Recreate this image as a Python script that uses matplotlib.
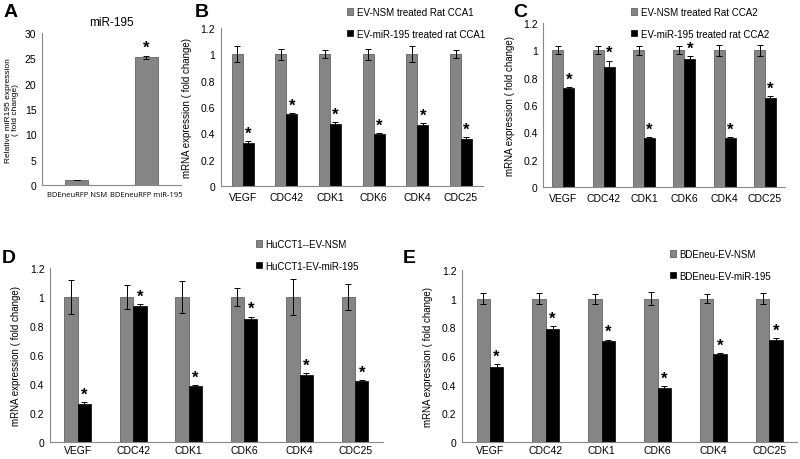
import numpy as np
import matplotlib
matplotlib.use("Agg")
from matplotlib import pyplot as plt

plt.rcParams['font.family'] = ['Liberation Sans', 'DejaVu Sans']

genes = ['VEGF', 'CDC42', 'CDK1', 'CDK6', 'CDK4', 'CDC25']

# panel A
a_labels = ['BDEneuRFP NSM', 'BDEneuRFP miR-195']
a_vals = [1.0, 25.2]
a_err = [0.05, 0.3]

# panel B
b_ctrl = [1, 1, 1, 1, 1, 1]
b_ctrl_err = [0.06, 0.04, 0.03, 0.04, 0.06, 0.03]
b_mir = [0.33, 0.545, 0.47, 0.395, 0.46, 0.355]
b_mir_err = [0.01, 0.01, 0.015, 0.01, 0.015, 0.015]

# panel C
c_ctrl = [1, 1, 1, 1, 1, 1]
c_ctrl_err = [0.03, 0.03, 0.035, 0.03, 0.04, 0.04]
c_mir = [0.725, 0.875, 0.36, 0.94, 0.355, 0.65]
c_mir_err = [0.008, 0.05, 0.008, 0.015, 0.01, 0.015]

# panel D
d_ctrl = [1, 1, 1, 1, 1, 1]
d_ctrl_err = [0.12, 0.08, 0.11, 0.06, 0.125, 0.09]
d_mir = [0.265, 0.935, 0.385, 0.845, 0.465, 0.42]
d_mir_err = [0.008, 0.015, 0.01, 0.02, 0.01, 0.008]

# panel E
e_ctrl = [1, 1, 1, 1, 1, 1]
e_ctrl_err = [0.04, 0.04, 0.035, 0.045, 0.03, 0.04]
e_mir = [0.525, 0.79, 0.705, 0.375, 0.615, 0.71]
e_mir_err = [0.02, 0.02, 0.01, 0.015, 0.008, 0.015]

GRAY = '#858585'
EDGE = '#505050'
AXC = '#888888'


def style(ax):
    for s in ['top', 'right']:
        ax.spines[s].set_visible(False)
    for s in ['left', 'bottom']:
        ax.spines[s].set_color(AXC)
        ax.spines[s].set_linewidth(0.8)
    ax.tick_params(axis='both', length=0, labelsize=7.5, pad=4)


def grouped(ax, ctrl, ctrl_err, mir, mir_err, labels, leg_xy, w=0.25, xpad=4):
    x = np.arange(len(genes))
    ekw = dict(elinewidth=0.7, capsize=2, capthick=0.7, ecolor='black')
    b1 = ax.bar(x - w / 2, ctrl, w, yerr=ctrl_err, color=GRAY, edgecolor=EDGE,
                linewidth=0.5, error_kw=ekw, label=labels[0])
    b2 = ax.bar(x + w / 2, mir, w, yerr=mir_err, color='black', edgecolor='black',
                linewidth=0.5, error_kw=ekw, label=labels[1])
    for i in range(len(genes)):
        ax.text(x[i] + w / 2, mir[i] + mir_err[i] + 0.003, '*', ha='center', va='bottom',
                fontsize=12, fontweight='bold')
    ax.set_xticks(x)
    ax.set_xticklabels(genes)
    ax.set_xlim(-0.5, len(genes) - 0.5)
    ax.set_ylim(0, 1.2)
    ax.set_yticks([0, 0.2, 0.4, 0.6, 0.8, 1, 1.2])
    ax.set_yticklabels(['0', '0.2', '0.4', '0.6', '0.8', '1', '1.2'])
    ax.set_ylabel('mRNA expression ( fold change)', fontsize=7, labelpad=6)
    style(ax)
    ax.tick_params(axis='x', pad=xpad)
    fx, fy = leg_xy
    ax.legend(handles=[b1, b2], loc='upper left', bbox_to_anchor=(fx / 800, 1 - fy / 460),
              bbox_transform=ax.figure.transFigure, frameon=False, fontsize=7,
              handlelength=0.6, handleheight=0.6, handletextpad=0.4, labelspacing=1.2,
              borderpad=0, borderaxespad=0)


fig = plt.figure(figsize=(8, 4.6), dpi=100)

# A
axA = fig.add_axes([0.0525, 0.5957, 0.174, 0.330])
xa = np.arange(2)
axA.bar(xa, a_vals, 0.33, yerr=a_err, color=GRAY, edgecolor=EDGE, linewidth=0.5,
        error_kw=dict(elinewidth=0.7, capsize=2, capthick=0.7))
axA.text(xa[1], a_vals[1] + a_err[1] + 0.2, '*', ha='center', va='bottom',
         fontsize=12, fontweight='bold')
axA.set_xticks(xa)
axA.set_xticklabels(a_labels, family=['Open Sans', 'DejaVu Sans'])
axA.set_xlim(-0.5, 1.5)
axA.set_ylim(0, 30)
axA.set_yticks([0, 5, 10, 15, 20, 25, 30])
style(axA)
axA.tick_params(axis='x', labelsize=5.5)
axA.set_ylabel('Relative miR195 expression\n( fold change)', fontsize=6, labelpad=4,
               linespacing=1.0)
axA.set_title('miR-195', fontsize=8.5, pad=6)

# B
axB = fig.add_axes([0.276, 0.5935, 0.3275, 0.3435])
grouped(axB, b_ctrl, b_ctrl_err, b_mir, b_mir_err,
        ['EV-NSM treated Rat CCA1', 'EV-miR-195 treated rat CCA1'], (347, 8))

# C
axC = fig.add_axes([0.679, 0.5913, 0.3025, 0.3565])
grouped(axC, c_ctrl, c_ctrl_err, c_mir, c_mir_err,
        ['EV-NSM treated Rat CCA2', 'EV-miR-195 treated rat CCA2'], (631, 8), w=0.27)

# D
axD = fig.add_axes([0.0625, 1 - 443 / 460, 0.416, 174 / 460])
grouped(axD, d_ctrl, d_ctrl_err, d_mir, d_mir_err,
        ['HuCCT1--EV-NSM', 'HuCCT1-EV-miR-195'], (256, 240), w=0.24, xpad=2)

# E
axE = fig.add_axes([0.5775, 1 - 443 / 460, 0.419, 172 / 460])
grouped(axE, e_ctrl, e_ctrl_err, e_mir, e_mir_err,
        ['BDEneu-EV-NSM', 'BDEneu-EV-miR-195'], (670, 250), w=0.24, xpad=2)

for letter, (px, py) in zip('ABCDE', [(4, 4), (195, 4), (513, 4), (2, 250), (403, 250)]):
    fig.text(px / 800, 1 - py / 460, letter, fontsize=14, fontweight='bold',
             ha='left', va='top')

fig.savefig('out.png', dpi=100)
